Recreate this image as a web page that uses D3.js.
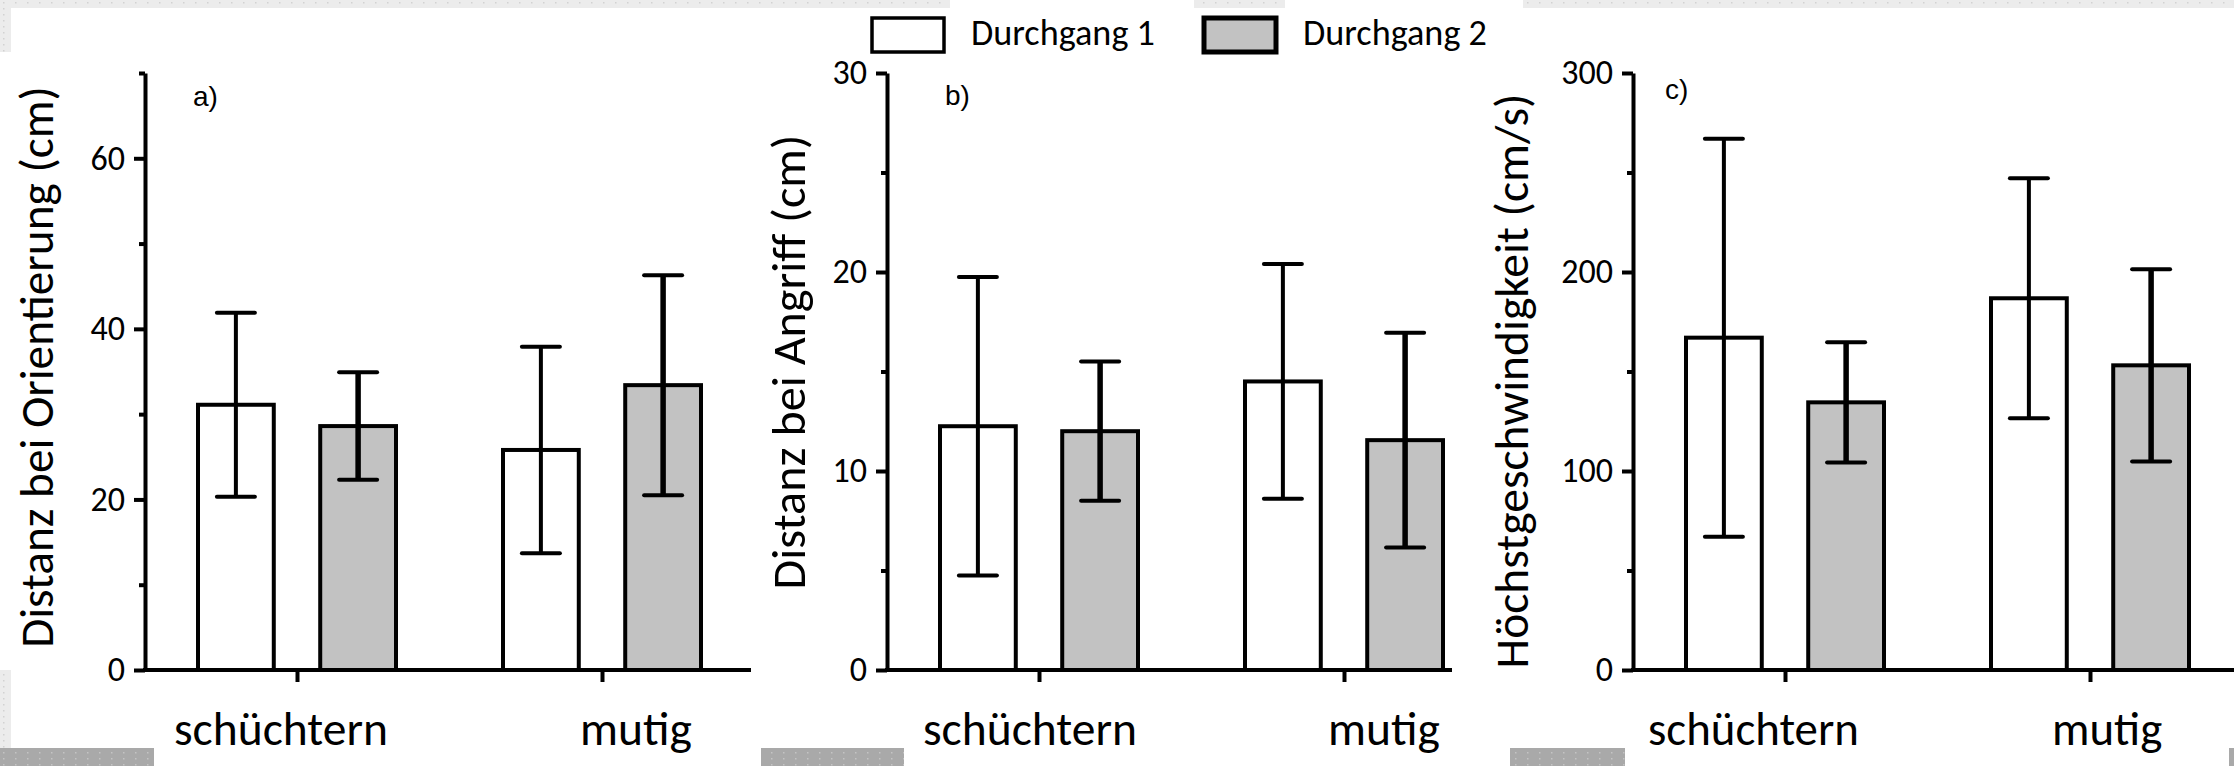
<!DOCTYPE html>
<html>
<head>
<meta charset="utf-8">
<script src="https://cdn.jsdelivr.net/npm/d3@7"></script>
<style>
  body { margin: 0; background: #fff; overflow: hidden; }
  svg { display: block; }
</style>
</head>
<body>
<div id="chart"></div>
<script>
// ---- data ----
var categories = ["schüchtern", "mutig"];
var series = ["Durchgang 1", "Durchgang 2"];

// a) Distanz bei Orientierung (cm)
var orientD1 = [31.1, 25.8], orientD1Sd = [10.8, 12.1];
var orientD2 = [28.6, 33.4], orientD2Sd = [6.3, 12.9];
var orientTicks = [0, 20, 40, 60], orientMinor = [10, 30, 50, 70];

// b) Distanz bei Angriff (cm)
var angriffD1 = [12.25, 14.5], angriffD1Sd = [7.5, 5.9];
var angriffD2 = [12.0, 11.55], angriffD2Sd = [3.5, 5.4];
var angriffTicks = [0, 10, 20, 30], angriffMinor = [5, 15, 25];

// c) Höchstgeschwindigkeit (cm/s)
var speedD1 = [167, 186.8], speedD1Sd = [100, 60.3];
var speedD2 = [134.5, 153.1], speedD2Sd = [30.2, 48.3];
var speedTicks = [0, 100, 200, 300], speedMinor = [50, 150, 250];

var titles = ["Distanz bei Orientierung (cm)", "Distanz bei Angriff (cm)", "Höchstgeschwindigkeit (cm/s)"];
var letters = ["a)", "b)", "c)"];

// ---- layout ----
var W = 2234, H = 766;
var yTop = 73, yBase = 670;
var font = "Carlito, Calibri, Lato, sans-serif";

var panels = [
  { x0: 145, xEnd: 751, yMax: 70, ticks: orientTicks, minor: orientMinor,
    means: [orientD1, orientD2], sds: [orientD1Sd, orientD2Sd],
    labelLeft: [29, 435], labelW: 214, titleX: 19, titleY: 367, titleW: 562, letterDx: 48, letterY: 106 },
  { x0: 887, xEnd: 1452, yMax: 30, ticks: angriffTicks, minor: angriffMinor,
    means: [angriffD1, angriffD2], sds: [angriffD1Sd, angriffD2Sd],
    labelLeft: [36, 441], labelW: 214, titleX: 770, titleY: 362, titleW: 455, letterDx: 58, letterY: 105 },
  { x0: 1633, xEnd: 2240, yMax: 300, ticks: speedTicks, minor: speedMinor,
    means: [speedD1, speedD2], sds: [speedD1Sd, speedD2Sd],
    labelLeft: [15, 419], labelW: 211, titleX: 1494, titleY: 381, titleW: 575, letterDx: 32, letterY: 99 }
];

var fills = { "Durchgang 1": "#ffffff", "Durchgang 2": "#c2c2c2" };
var stemW = { "Durchgang 1": 4, "Durchgang 2": 5.5 };

var svg = d3.select("#chart").append("svg")
    .attr("width", W)
    .attr("height", H);

// slide background bits (dotted grey of the screenshot)
var defs = svg.append("defs");
function dots(id, bg, dot) {
  var p = defs.append("pattern").attr("id", id)
      .attr("width", 12).attr("height", 6)
      .attr("patternUnits", "userSpaceOnUse");
  p.append("rect").attr("width", 12).attr("height", 6).attr("fill", bg);
  p.append("rect").attr("x", 3).attr("y", 2).attr("width", 1.5).attr("height", 1.5).attr("fill", dot);
}
dots("dotsLight", "#ececec", "#d2d2d2");
dots("dotsDark", "#a9a9a9", "#c4c4c4");

var backdrop = [
  [0, 0, 950, 8, "dotsLight"], [1194, 0, 91, 8, "dotsLight"], [1523, 0, 711, 8, "dotsLight"],
  [0, 0, 11, 52, "dotsLight"], [0, 670, 11, 80, "dotsLight"],
  [0, 748, 154, 18, "dotsDark"], [761, 748, 143, 18, "dotsDark"],
  [1510, 748, 115, 18, "dotsDark"], [2229, 748, 5, 18, "dotsDark"]
];
svg.selectAll("rect.bg")
    .data(backdrop)
    .enter().append("rect")
    .attr("class", "bg")
    .attr("x", function(d) { return d[0]; })
    .attr("y", function(d) { return d[1]; })
    .attr("width", function(d) { return d[2]; })
    .attr("height", function(d) { return d[3]; })
    .attr("fill", function(d) { return "url(#" + d[4] + ")"; });

// scale a text's font size so that it gets a given width
function fitWidth(sel, width) {
  sel.style("font-size", "100px");
  var len = sel.node().getComputedTextLength();
  var fs = 100 * width / len;
  sel.style("font-size", fs + "px");
  return fs;
}

panels.forEach(function(p, pi) {
  var y = d3.scaleLinear().domain([0, p.yMax]).range([yBase, yTop]);
  var x = d3.scalePoint().domain(categories).range([p.x0 + 152, p.x0 + 457]);
  var xs = d3.scaleBand().domain(series).range([-99, 99]).paddingInner(0.38);
  var g = svg.append("g");

  var rows = [];
  series.forEach(function(s, si) {
    categories.forEach(function(c, ci) {
      rows.push({ cat: c, ser: s, mean: p.means[si][ci], sd: p.sds[si][ci] });
    });
  });

  // bars
  g.selectAll("rect.bar")
      .data(rows)
      .enter().append("rect")
      .attr("class", "bar")
      .attr("x", function(d) { return x(d.cat) + xs(d.ser); })
      .attr("width", xs.bandwidth())
      .attr("y", function(d) { return y(d.mean); })
      .attr("height", function(d) { return y(0) - y(d.mean); })
      .attr("fill", function(d) { return fills[d.ser]; })
      .attr("stroke", "#000")
      .attr("stroke-width", 4);

  // error bars
  var cx = function(d) { return x(d.cat) + xs(d.ser) + xs.bandwidth() / 2; };
  g.selectAll("line.stem")
      .data(rows)
      .enter().append("line")
      .attr("class", "stem")
      .attr("x1", cx).attr("x2", cx)
      .attr("y1", function(d) { return y(d.mean + d.sd); })
      .attr("y2", function(d) { return y(d.mean - d.sd); })
      .attr("stroke", "#000")
      .attr("stroke-width", function(d) { return stemW[d.ser]; });

  [1, -1].forEach(function(sign) {
    g.selectAll("line.cap" + (sign > 0 ? "Hi" : "Lo"))
        .data(rows)
        .enter().append("line")
        .attr("x1", function(d) { return cx(d) - 19; })
        .attr("x2", function(d) { return cx(d) + 19; })
        .attr("y1", function(d) { return y(d.mean + sign * d.sd); })
        .attr("y2", function(d) { return y(d.mean + sign * d.sd); })
        .attr("stroke", "#000")
        .attr("stroke-width", 4)
        .attr("stroke-linecap", "round");
  });

  // y axis
  var yAxis = g.append("g")
      .attr("transform", "translate(" + p.x0 + ",0)")
      .call(d3.axisLeft(y).tickValues(p.ticks).tickSize(11).tickSizeOuter(0).tickPadding(9));
  yAxis.select(".domain").attr("stroke-width", 4);
  yAxis.selectAll(".tick line").attr("stroke-width", 4);
  yAxis.selectAll(".tick text")
      .style("font-family", font)
      .style("font-size", "34px")
      .attr("fill", "#000");

  var yMinor = g.append("g")
      .attr("transform", "translate(" + p.x0 + ",0)")
      .call(d3.axisLeft(y).tickValues(p.minor).tickSize(6).tickFormat(""));
  yMinor.select(".domain").remove();
  yMinor.selectAll(".tick line").attr("stroke-width", 4);

  // x axis
  g.append("line")
      .attr("x1", p.x0 - 2).attr("x2", p.xEnd)
      .attr("y1", y(0)).attr("y2", y(0))
      .attr("stroke", "#000")
      .attr("stroke-width", 4);
  var xAxis = g.append("g")
      .attr("transform", "translate(0," + y(0) + ")")
      .call(d3.axisBottom(x).tickSize(12).tickSizeOuter(0).tickFormat(""));
  xAxis.select(".domain").remove();
  xAxis.selectAll(".tick line").attr("stroke-width", 4);

  // category labels
  var catFs = null;
  categories.forEach(function(c, ci) {
    var t = g.append("text")
        .attr("x", p.x0 + p.labelLeft[ci])
        .attr("y", 745)
        .style("font-family", font)
        .attr("fill", "#000")
        .text(c);
    if (ci === 0) catFs = fitWidth(t, p.labelW);
    else t.style("font-size", catFs + "px");
  });

  // y title
  var title = g.append("text")
      .attr("text-anchor", "middle")
      .style("font-family", font)
      .attr("fill", "#000")
      .text(titles[pi]);
  var tfs = fitWidth(title, p.titleW);
  title.attr("transform", "translate(" + (p.titleX + 0.72 * tfs) + "," + p.titleY + ") rotate(-90)");

  // panel letter
  g.append("text")
      .attr("x", p.x0 + p.letterDx)
      .attr("y", p.letterY)
      .style("font-family", "'Liberation Sans', Arial, sans-serif")
      .style("font-size", "28px")
      .attr("fill", "#000")
      .text(letters[pi]);
});

// legend
var legendX = [870, 1202];
var legend = svg.append("g");
series.forEach(function(s, si) {
  legend.append("rect")
      .attr("x", legendX[si] + 2)
      .attr("y", 18)
      .attr("width", 72)
      .attr("height", 34)
      .attr("fill", fills[s])
      .attr("stroke", "#000")
      .attr("stroke-width", si === 0 ? 3.5 : 5);
  var t = legend.append("text")
      .attr("x", legendX[si] + 101)
      .attr("y", 45)
      .style("font-family", font)
      .attr("fill", "#000")
      .text(s);
  fitWidth(t, 184);
});
</script>
</body>
</html>
